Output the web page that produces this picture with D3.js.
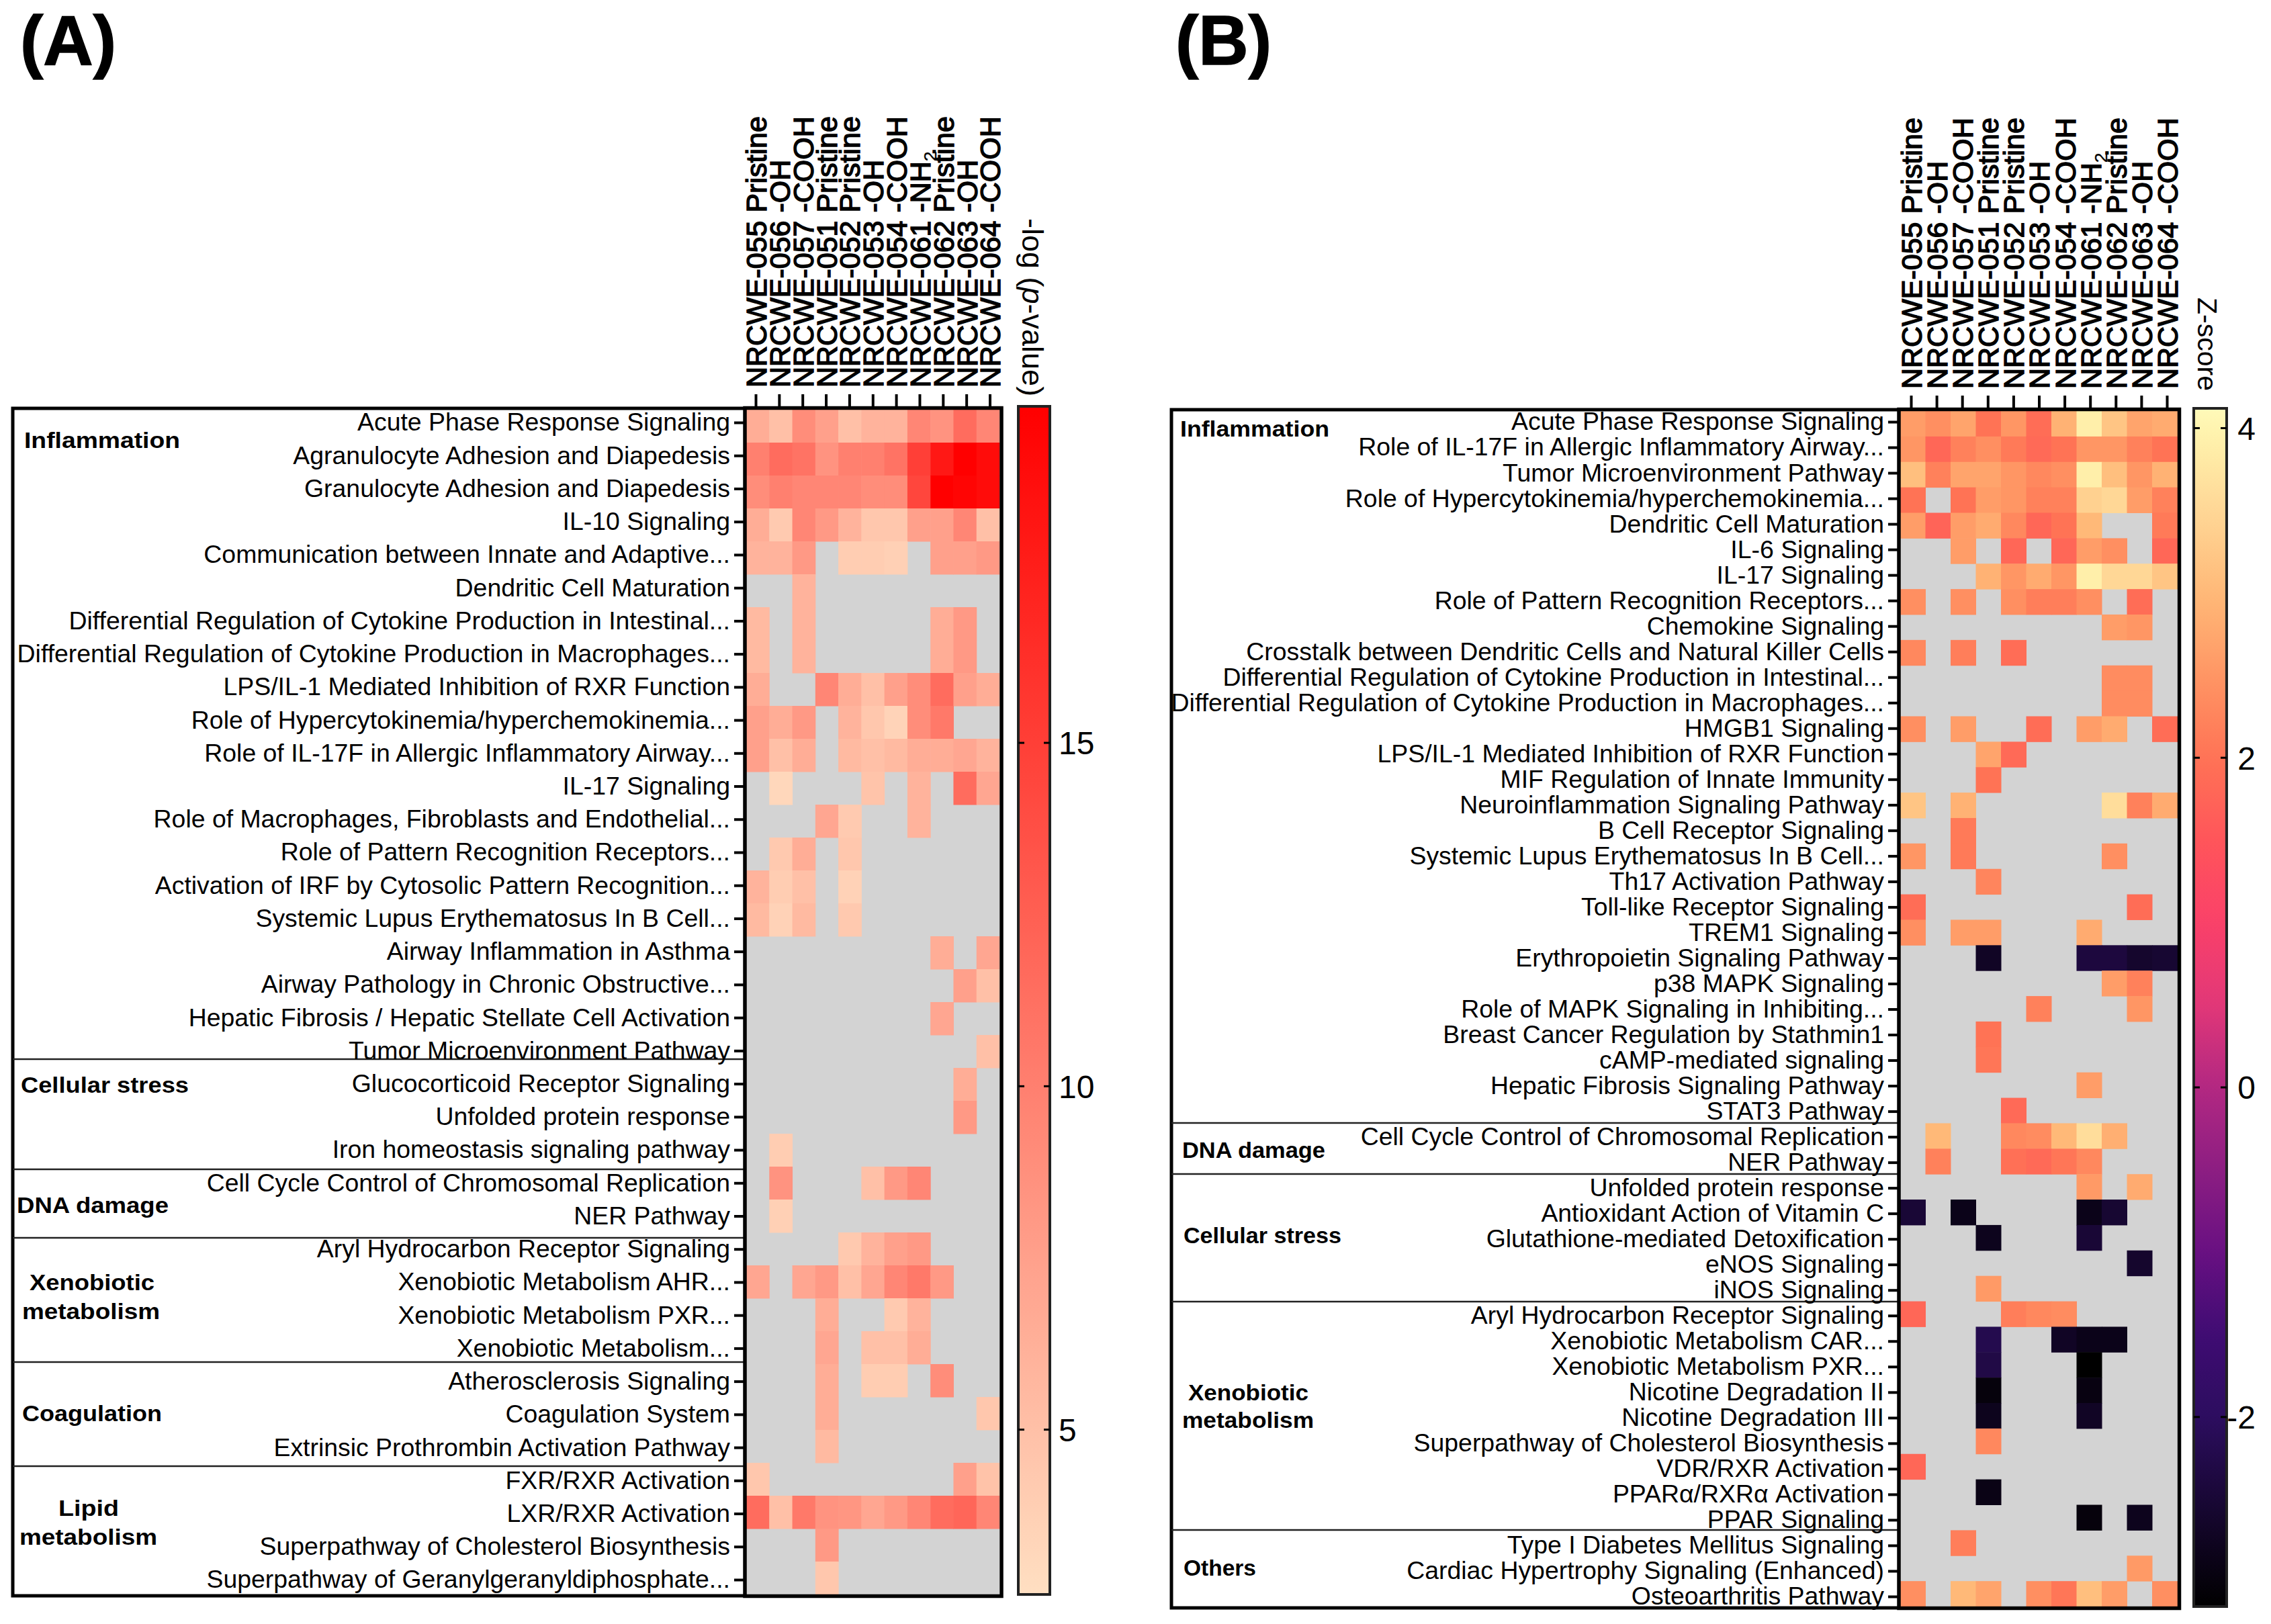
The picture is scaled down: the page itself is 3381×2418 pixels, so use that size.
<!DOCTYPE html>
<html><head><meta charset="utf-8">
<script src="https://cdn.jsdelivr.net/npm/d3@7/dist/d3.min.js"></script>
<style>html,body{margin:0;background:#fff}svg{display:block}text{font-family:"Liberation Sans",Arial,sans-serif;fill:#000}</style>
</head><body><svg id="c" width="3381" height="2418"></svg>
<script>
const _ = null;
const columns = ["NRCWE-055 Pristine","NRCWE-056 -OH","NRCWE-057 -COOH","NRCWE-051 Pristine","NRCWE-052 Pristine","NRCWE-053 -OH","NRCWE-054 -COOH","NRCWE-061 -NH2","NRCWE-062 Pristine","NRCWE-063 -OH","NRCWE-064 -COOH"];

const pathwaysA = ["Acute Phase Response Signaling","Agranulocyte Adhesion and Diapedesis","Granulocyte Adhesion and Diapedesis","IL-10 Signaling","Communication between Innate and Adaptive...","Dendritic Cell Maturation","Differential Regulation of Cytokine Production in Intestinal...","Differential Regulation of Cytokine Production in Macrophages...","LPS/IL-1 Mediated Inhibition of RXR Function","Role of Hypercytokinemia/hyperchemokinemia...","Role of IL-17F in Allergic Inflammatory Airway...","IL-17 Signaling","Role of Macrophages, Fibroblasts and Endothelial...","Role of Pattern Recognition Receptors...","Activation of IRF by Cytosolic Pattern Recognition...","Systemic Lupus Erythematosus In B Cell...","Airway Inflammation in Asthma","Airway Pathology in Chronic Obstructive...","Hepatic Fibrosis / Hepatic Stellate Cell Activation","Tumor Microenvironment Pathway","Glucocorticoid Receptor Signaling","Unfolded protein response","Iron homeostasis signaling pathway","Cell Cycle Control of Chromosomal Replication","NER Pathway","Aryl Hydrocarbon Receptor Signaling","Xenobiotic Metabolism AHR...","Xenobiotic Metabolism PXR...","Xenobiotic Metabolism...","Atherosclerosis Signaling","Coagulation System","Extrinsic Prothrombin Activation Pathway","FXR/RXR Activation","LXR/RXR Activation","Superpathway of Cholesterol Biosynthesis","Superpathway of Geranylgeranyldiphosphate..."];

const valuesA = [
[6.5,5,9,7.5,5,6,6,9.5,8.5,11.5,9.5],
[10,11.5,11,8.5,10,10,11,15,18,20,19],
[9,10,9.5,9.5,9.5,9,9,14.5,20,19.5,19],
[6.5,4.2,9.5,8,6,4.5,4.5,7.5,7.5,9.5,5],
[6,6,8,_,4,4,3.8,_,7.5,7.5,8],
[_,_,6,_,_,_,_,_,_,_,_],
[5.5,_,6,_,_,_,_,_,6.5,8,_],
[5.5,_,6,_,_,_,_,_,6.5,8,_],
[6.5,_,_,9.5,6.5,5,7.5,9,11.5,7.5,6.5],
[7.5,6.5,8,_,6,4.5,3.5,9,10.5,_,_],
[7.5,5,6.5,_,5.5,5,5.5,6.5,6.5,7,6],
[_,3.2,_,_,_,4.7,_,6,_,11.5,7],
[_,_,_,7,4.2,_,_,6,_,_,_],
[_,4.3,6.5,_,4.5,_,_,_,_,_,_],
[6,4,5,_,3.6,_,_,_,_,_,_],
[5.5,3.6,5.5,_,4.3,_,_,_,_,_,_],
[_,_,_,_,_,_,_,_,6.5,_,7],
[_,_,_,_,_,_,_,_,_,7.5,5],
[_,_,_,_,_,_,_,_,7,_,_],
[_,_,_,_,_,_,_,_,_,_,5],
[_,_,_,_,_,_,_,_,_,6.5,_],
[_,_,_,_,_,_,_,_,_,8,_],
[_,4,_,_,_,_,_,_,_,_,_],
[_,8.5,_,_,_,5,8,9.5,_,_,_],
[_,3.8,_,_,_,_,_,_,_,_,_],
[_,_,_,_,4.3,6,7.5,8,_,_,_],
[7,_,7,8,5,7,9.5,10.5,8,_,_],
[_,_,_,6.5,_,_,4.2,6,_,_,_],
[_,_,_,7,_,5,5,6.5,_,_,_],
[_,_,_,6.5,_,4,4,_,9,_,_],
[_,_,_,6.5,_,_,_,_,_,_,4.5],
[_,_,_,5.5,_,_,_,_,_,_,_],
[4.5,_,_,_,_,_,_,_,_,7.5,4.8],
[11.5,5,10.5,8.5,8.3,7,8,9.5,11.5,12,9.5],
[_,_,_,8,_,_,_,_,_,_,_],
[_,_,_,4.5,_,_,_,_,_,_,_]
];

const pathwaysB = ["Acute Phase Response Signaling","Role of IL-17F in Allergic Inflammatory Airway...","Tumor Microenvironment Pathway","Role of Hypercytokinemia/hyperchemokinemia...","Dendritic Cell Maturation","IL-6 Signaling","IL-17 Signaling","Role of Pattern Recognition Receptors...","Chemokine Signaling","Crosstalk between Dendritic Cells and Natural Killer Cells","Differential Regulation of Cytokine Production in Intestinal...","Differential Regulation of Cytokine Production in Macrophages...","HMGB1 Signaling","LPS/IL-1 Mediated Inhibition of RXR Function","MIF Regulation of Innate Immunity","Neuroinflammation Signaling Pathway","B Cell Receptor Signaling","Systemic Lupus Erythematosus In B Cell...","Th17 Activation Pathway","Toll-like Receptor Signaling","TREM1 Signaling","Erythropoietin Signaling Pathway","p38 MAPK Signaling","Role of MAPK Signaling in Inhibiting...","Breast Cancer Regulation by Stathmin1","cAMP-mediated signaling","Hepatic Fibrosis Signaling Pathway","STAT3 Pathway","Cell Cycle Control of Chromosomal Replication","NER Pathway","Unfolded protein response","Antioxidant Action of Vitamin C","Glutathione-mediated Detoxification","eNOS Signaling","iNOS Signaling","Aryl Hydrocarbon Receptor Signaling","Xenobiotic Metabolism CAR...","Xenobiotic Metabolism PXR...","Nicotine Degradation II","Nicotine Degradation III","Superpathway of Cholesterol Biosynthesis","VDR/RXR Activation","PPARα/RXRα Activation","PPAR Signaling","Type I Diabetes Mellitus Signaling","Cardiac Hypertrophy Signaling (Enhanced)","Osteoarthritis Pathway"];

const valuesB = [
[2.6,2.4,2.7,2.0,2.5,1.9,2.9,3.9,3.2,2.7,2.8],
[2.5,1.8,2.2,2.4,2.1,1.85,2.0,2.5,2.5,2.2,2.0],
[3.1,2.2,2.7,2.7,2.5,2.3,2.4,3.9,3.1,2.5,2.9],
[2.0,_,2.0,2.6,2.5,2.2,2.2,3.4,3.5,2.6,2.2],
[2.6,1.75,2.6,2.8,2.3,1.8,2.0,3.0,_,_,2.1],
[_,_,2.6,_,1.8,_,1.8,2.6,2.4,_,1.8],
[_,_,_,2.9,2.5,2.8,2.5,3.9,3.5,3.5,3.2],
[2.4,_,2.4,_,2.4,2.15,2.15,2.4,_,1.9,_],
[_,_,_,_,_,_,_,_,2.6,2.5,_],
[2.3,_,2.15,_,1.9,_,_,_,_,_,_],
[_,_,_,_,_,_,_,_,2.35,2.35,_],
[_,_,_,_,_,_,_,_,2.35,2.35,_],
[2.4,_,2.6,_,_,1.9,_,2.6,2.8,_,1.9],
[_,_,_,2.7,1.85,_,_,_,_,_,_],
[_,_,_,2.0,_,_,_,_,_,_,_],
[3.2,_,2.9,_,_,_,_,_,3.6,2.2,2.8],
[_,_,2.1,_,_,_,_,_,_,_,_],
[2.5,_,2.1,_,_,_,_,_,2.4,_,_],
[_,_,_,2.25,_,_,_,_,_,_,_],
[1.9,_,_,_,_,_,_,_,_,1.9,_],
[2.4,_,2.6,2.6,_,_,_,2.8,_,_,_],
[_,_,_,-2.7,_,_,_,-2.4,-2.4,-2.6,-2.55],
[_,_,_,_,_,_,_,_,2.6,2.2,_],
[_,_,_,_,_,2.2,_,_,_,2.5,_],
[_,_,_,2.0,_,_,_,_,_,_,_],
[_,_,_,2.05,_,_,_,_,_,_,_],
[_,_,_,_,_,_,_,2.6,_,_,_],
[_,_,_,_,1.85,_,_,_,_,_,_],
[_,3.0,_,_,2.3,2.35,3.0,3.6,2.85,_,_],
[_,2.2,_,_,1.95,1.85,2.05,2.3,_,_,_],
[_,_,_,_,_,_,_,2.55,_,2.8,_],
[-2.5,_,-2.85,_,_,_,_,-2.85,-2.55,_,_],
[_,_,_,-2.8,_,_,_,-2.5,_,_,_],
[_,_,_,_,_,_,_,_,_,-2.6,_],
[_,_,_,2.55,_,_,_,_,_,_,_],
[1.8,_,_,_,2.15,2.3,2.35,_,_,_,_],
[_,_,_,-2.2,_,_,-2.7,-2.85,-2.85,_,_],
[_,_,_,-2.3,_,_,_,-3.15,_,_,_],
[_,_,_,-3.0,_,_,_,-2.95,_,_,_],
[_,_,_,-2.8,_,_,_,-2.7,_,_,_],
[_,_,_,2.3,_,_,_,_,_,_,_],
[1.8,_,_,_,_,_,_,_,_,_,_],
[_,_,_,-2.9,_,_,_,_,_,_,_],
[_,_,_,_,_,_,_,-3.0,_,-2.8,_],
[_,_,2.15,_,_,_,_,_,_,_,_],
[_,_,_,_,_,_,_,_,_,2.55,_],
[2.4,_,3.0,2.7,_,2.4,2.05,3.1,2.6,_,2.4]
];

const ticksA = [5,10,15];
const ticksB = [-2,0,2,4];
const domainA = [2.6,19.9];
const domainB = [-3.15,4.12];
const rampA = ["#ffdfc2","#ff0000"];
const stopsB = [-3.15,-2,-1.5,-1,-0.5,0,0.5,1,1.5,2,2.5,3,3.5,4,4.12];
const rampB = ["#000000","#2c0d5f","#3f0c73","#691082","#8c1e82","#b22882","#e13778","#fa4169","#ff555a","#ff7355","#ff9664","#ffb978","#ffd796","#fff5af","#fffab9"];

const colorA = d3.scaleLinear().domain(domainA).range(rampA).clamp(true);
const colorB = d3.scaleLinear().domain(stopsB).range(rampB).clamp(true);

const svg = d3.select("#c");
const defs = svg.append("defs");

function panel(o){
  const g = svg.append("g");
  const x = d3.scaleBand().domain(columns).range([o.x0,o.x1]);
  const y = d3.scaleBand().domain(o.rows).range([o.y0,o.y1]);
  const xTick = d3.scalePoint().domain(columns).range(o.colTicks);
  const yTick = d3.scalePoint().domain(o.rows).range(o.rowTicks);
  g.append("rect").attr("x",o.frameL).attr("y",o.y0-2).attr("width",o.x0-o.frameL).attr("height",o.y1-o.y0+4)
    .attr("fill","none").attr("stroke","#000").attr("stroke-width",5);
  g.selectAll("line.sep").data(o.seps).join("line").attr("class","sep")
    .attr("x1",o.frameL).attr("x2",o.x0-3).attr("y1",d=>d).attr("y2",d=>d)
    .attr("stroke","#222").attr("stroke-width",2.5);
  g.append("rect").attr("x",o.x0).attr("y",o.y0).attr("width",o.x1-o.x0).attr("height",o.y1-o.y0).attr("fill","#d3d3d3");
  o.values.forEach((row,i)=>{
    g.selectAll(null).data(row.map((v,j)=>({v,j})).filter(d=>d.v!==null)).join("rect")
      .attr("x",d=>x(columns[d.j])).attr("y",y(o.rows[i]))
      .attr("width",x.bandwidth()+0.5).attr("height",y.bandwidth()+0.5)
      .attr("fill",d=>o.color(d.v));
  });
  g.append("rect").attr("x",o.x0-2).attr("y",o.y0-2.5).attr("width",o.x1-o.x0+5).attr("height",o.y1-o.y0+5)
    .attr("fill","none").attr("stroke","#000").attr("stroke-width",5.5);
  const ay = g.append("g").attr("transform",`translate(${o.x0-3},0)`).call(d3.axisLeft(yTick).tickSize(15).tickPadding(6));
  ay.select(".domain").remove();
  ay.selectAll("line").attr("stroke","#000").attr("stroke-width",4);
  ay.selectAll("text").attr("font-size",o.rowFont).attr("fill","#000").style("font-family",'"Liberation Sans"');
  const ax = g.append("g").attr("transform",`translate(0,${o.y0-4})`).call(d3.axisTop(xTick).tickSize(19).tickPadding(10));
  ax.select(".domain").remove();
  ax.selectAll("line").attr("stroke","#000").attr("stroke-width",4);
  ax.selectAll("text").each(function(d){
    const t = d3.select(this).text("");
    t.attr("transform","rotate(-90)").attr("text-anchor","start").attr("x",29).attr("y",0).attr("dy","0.36em")
     .attr("font-size",o.colFont).attr("fill","#000").attr("stroke","#000").attr("stroke-width",1.4)
     .style("font-family",'"Liberation Sans"');
    const m = d.endsWith("NH2");
    t.append("tspan").text(m ? d.slice(0,-1) : d);
    if(m) t.append("tspan").text("2").attr("font-size",o.colFont*0.62).attr("dy",9).attr("stroke-width",0.3);
  });
  const s = d3.scaleLinear().domain(o.domain).range([o.barY1,o.barY0]);
  const gid = o.id+"grad";
  const lg = defs.append("linearGradient").attr("id",gid).attr("x1",0).attr("x2",0).attr("y1",1).attr("y2",0);
  d3.range(0,1.0001,0.02).forEach(t=>{
    lg.append("stop").attr("offset",t).attr("stop-color",o.color(o.domain[0]+t*(o.domain[1]-o.domain[0])));
  });
  g.append("rect").attr("x",o.barX).attr("y",o.barY0).attr("width",o.barW).attr("height",o.barY1-o.barY0)
    .attr("fill",`url(#${gid})`).attr("stroke","#222").attr("stroke-width",4);
  g.selectAll("line.lt").data(o.ticks.flatMap(t=>[[t,0],[t,1]])).join("line").attr("class","lt")
    .attr("x1",d=>d[1]?o.barX+o.barW-9:o.barX).attr("x2",d=>d[1]?o.barX+o.barW:o.barX+9)
    .attr("y1",d=>s(d[0])).attr("y2",d=>s(d[0])).attr("stroke","#000").attr("stroke-width",3);
  g.selectAll("text.lt").data(o.ticks).join("text").attr("class","lt")
    .attr("x",o.tickX).attr("y",d=>s(d)).attr("dy","0.36em").attr("text-anchor",o.tickAnchor)
    .attr("font-size",48).text(d=>String(d));
  const lt = g.append("text").attr("transform",`translate(${o.titleX},${o.titleY}) rotate(90)`).attr("font-size",o.titleFont);
  o.title.forEach(p=>lt.append("tspan").text(p[0]).attr("font-style",p[1]?"italic":"normal"));
  g.selectAll("text.gr").data(o.groups).join("text").attr("class","gr")
    .attr("x",d=>d[1]).attr("y",d=>d[2]).attr("font-size",33).attr("font-weight",700)
    .attr("textLength",d=>d[3]).attr("lengthAdjust","spacingAndGlyphs").text(d=>d[0]);
  g.append("text").attr("x",o.letterX).attr("y",96).attr("font-size",103).attr("font-weight",700).attr("stroke","#000").attr("stroke-width",1.5).text(o.letter);
}

panel({id:"a",letter:"(A)",letterX:30,rows:pathwaysA,values:valuesA,color:colorA,domain:domainA,ticks:ticksA,
  x0:1111,x1:1488,y0:610,y1:2374,frameL:19,rowFont:37.4,colFont:43,
  colTicks:[1125,1473.5],rowTicks:[629,2352],
  seps:[1577,1741,1843,2028,2183],
  barX:1516,barW:47,barY0:605,barY1:2374,tickX:1576,tickAnchor:"start",
  title:[["-log (",0],["p",1],["-value)",0]],titleX:1522,titleY:325,titleFont:45,
  groups:[["Inflammation",36,667,232],["Cellular stress",31,1627,250],["DNA damage",25,1806,226],["Xenobiotic",44,1921,186],["metabolism",33,1964,205],["Coagulation",33,2116,208],["Lipid",87,2257,90],["metabolism",29,2300,205]]
});
panel({id:"b",letter:"(B)",letterX:1750,rows:pathwaysB,values:valuesB,color:colorB,domain:domainB,ticks:ticksB,
  x0:2829,x1:3241.5,y0:612,y1:2392,frameL:1744,rowFont:37.4,colFont:43,
  colTicks:[2845,3226],rowTicks:[628,2377],
  seps:[1672,1748,1938,2278],
  barX:3266,barW:49,barY0:608,barY1:2392,tickX:3358,tickAnchor:"end",
  title:[["Z-score",0]],titleX:3272,titleY:443,titleFont:41,
  groups:[["Inflammation",1757,650,222],["DNA damage",1760,1724,213],["Cellular stress",1762,1851,235],["Xenobiotic",1769,2085,179],["metabolism",1760,2126,196],["Others",1762,2346,108]]
});
</script></body></html>
